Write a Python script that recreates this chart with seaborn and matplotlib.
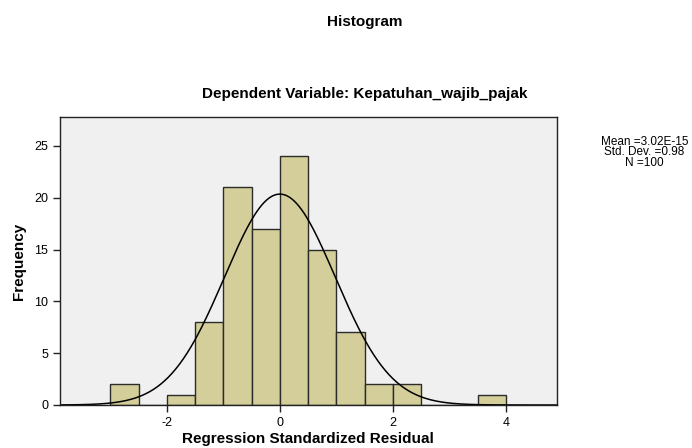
import numpy as np
import seaborn as sns
import matplotlib.pyplot as plt

# bin edges and counts
bin_edges = [-3.0, -2.5, -2.0, -1.5, -1.0, -0.5, 0.0, 0.5, 1.0, 1.5, 2.0, 2.5, 3.0, 3.5, 4.0]
counts = [2, 0, 1, 8, 21, 17, 24, 15, 7, 2, 2, 0, 0, 1]

mean_val = 3.02e-15
std_val = 0.98
n_val = 100

x_ticks = [-2, 0, 2, 4]
y_ticks = [0, 5, 10, 15, 20, 25]

sns.set_style("white")
plt.rcParams["font.family"] = ["Liberation Sans", "DejaVu Sans"]
plt.rcParams["axes.unicode_minus"] = False
plt.rcParams["text.color"] = "black"
plt.rcParams["axes.labelcolor"] = "black"

fig = plt.figure(figsize=(6.92, 4.48), dpi=100)
ax = fig.add_axes([0.0867, 0.096, 0.718, 0.643])
ax.set_facecolor("#F0F0F0")

centers = [(a + b) / 2 for a, b in zip(bin_edges[:-1], bin_edges[1:])]
sns.histplot(x=centers, weights=counts, bins=bin_edges, ax=ax,
             color="#D3CE9A", alpha=1.0, edgecolor="#2b2b2b", linewidth=1.0)

# normal curve scaled to counts (N * bin width * pdf)
xlim = (-3.89, 4.9)
width = bin_edges[1] - bin_edges[0]
xs = np.linspace(xlim[0], xlim[1], 400)
ys = n_val * width / (std_val * np.sqrt(2 * np.pi)) * np.exp(-0.5 * ((xs - mean_val) / std_val) ** 2)
sns.lineplot(x=xs, y=ys, ax=ax, color="black", linewidth=1.1)

ax.set_xlim(*xlim)
ax.set_ylim(0, 27.8)
ax.set_xticks(x_ticks)
ax.set_yticks(y_ticks)
ax.tick_params(axis="both", direction="out", length=5, width=1, labelsize=9,
               colors="#222222", labelcolor="black", bottom=True, left=True)
for s in ax.spines.values():
    s.set_color("#222222")
    s.set_linewidth(1.0)

ax.set_xlabel("Regression Standardized Residual", fontsize=11, fontweight="bold", labelpad=2)
ax.set_ylabel("Frequency", fontsize=11, fontweight="bold", labelpad=6)

fig.text(0.527, 0.95, "Histogram", ha="center", va="center", fontsize=11, fontweight="bold")
fig.text(0.527, 0.79, "Dependent Variable: Kepatuhan_wajib_pajak", ha="center", va="center",
         fontsize=11, fontweight="bold")

stats = f"Mean =3.02E-15\nStd. Dev. =0.98\nN ={n_val}"
fig.text(0.931, 0.66, stats, ha="center", va="center", fontsize=8.5, linespacing=0.85)

fig.savefig("out.png", dpi=100)
